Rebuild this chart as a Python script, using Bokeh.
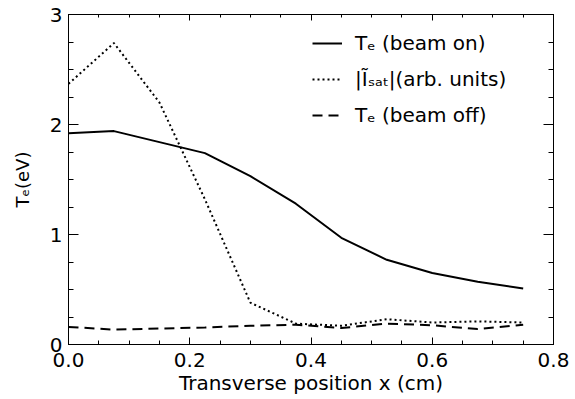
from bokeh.plotting import figure
from bokeh.models import (Range1d, LinearAxis, SingleIntervalTicker, Legend,
                          LegendItem, PrintfTickFormatter, CustomJSTickFormatter)
from bokeh.embed import file_html
from bokeh.resources import INLINE

# ---- data ----
x_pos = [0.0, 0.075, 0.15, 0.225, 0.3, 0.375, 0.45, 0.525, 0.6, 0.675, 0.75]
te_beam_on = [1.92, 1.94, 1.84, 1.74, 1.53, 1.28, 0.97, 0.77, 0.65, 0.57, 0.51]
isat_amp = [2.37, 2.74, 2.20, 1.32, 0.38, 0.19, 0.17, 0.23, 0.20, 0.21, 0.20]
te_beam_off = [0.16, 0.135, 0.145, 0.155, 0.17, 0.18, 0.15, 0.19, 0.175, 0.14, 0.18]

series_labels = ["T\u2091 (beam on)", "|\u0128\u209b\u2090\u209c|(arb. units)", "T\u2091 (beam off)"]
x_title = "Transverse position x (cm)"
y_title = "T\u2091(eV)"
x_ticks_interval = 0.2
y_ticks_interval = 1

FONT = "DejaVu Sans"

W, H = 575, 399
p = figure(width=W, height=H, output_backend="svg", toolbar_location=None,
           x_range=Range1d(0, 0.8), y_range=Range1d(0, 3),
           x_axis_type=None, y_axis_type=None,
           min_border_left=68, min_border_right=22, min_border_top=14, min_border_bottom=55)
p.xgrid.visible = False
p.ygrid.visible = False
p.outline_line_color = "black"
p.outline_line_width = 1
p.background_fill_color = "white"
p.border_fill_color = "white"


def mk_axis(kind, labels, tin, tmin):
    tick = SingleIntervalTicker(interval=x_ticks_interval if kind == "x" else y_ticks_interval,
                                num_minor_ticks=4)
    ax = LinearAxis(ticker=tick)
    ax.major_tick_in = tin
    ax.major_tick_out = 0
    ax.minor_tick_in = tmin
    ax.minor_tick_out = 0
    ax.axis_line_color = "black"
    ax.major_tick_line_color = "black"
    ax.minor_tick_line_color = "black"
    if labels:
        ax.formatter = PrintfTickFormatter(format="%.1f" if kind == "x" else "%d")
        ax.major_label_text_font = FONT
        ax.major_label_text_font_size = "20px"
        ax.major_label_text_color = "black"
        ax.axis_label_text_font = FONT
        ax.axis_label_text_font_style = "normal"
        ax.axis_label_text_color = "black"
    else:
        ax.formatter = CustomJSTickFormatter(code="return ''")
        ax.major_label_standoff = 0
        ax.major_label_text_font_size = "0px"
    return ax


xb = mk_axis("x", True, 7, 4)
xb.major_label_standoff = 8
xb.axis_label = x_title
xb.axis_label_text_font_size = "20px"
xb.axis_label_standoff = 1

yl = mk_axis("y", True, 10, 5)
yl.major_label_standoff = 6
yl.axis_label = y_title
yl.axis_label_text_font_size = "18px"
yl.axis_label_standoff = 14

xt = mk_axis("x", False, 6, 3)
yr = mk_axis("y", False, 10, 5)
p.add_layout(xb, "below")
p.add_layout(yl, "left")
p.add_layout(xt, "above")
p.add_layout(yr, "right")

r1 = p.line(x_pos, te_beam_on, line_color="black", line_width=2)
r2 = p.line(x_pos, isat_amp, line_color="black", line_width=2, line_dash="2 3")
r3 = p.line(x_pos, te_beam_off, line_color="black", line_width=2, line_dash="10 6")

legend = Legend(items=[LegendItem(label=series_labels[0], renderers=[r1]),
                       LegendItem(label=series_labels[1], renderers=[r2]),
                       LegendItem(label=series_labels[2], renderers=[r3])],
                location=(244, 211), glyph_width=30, glyph_height=36, label_height=36,
                spacing=0, padding=0, margin=0, label_standoff=13,
                border_line_color=None, background_fill_alpha=0,
                label_text_font=FONT, label_text_font_size="20px",
                label_text_color="black")
p.add_layout(legend, "center")

open("out.html", "w").write(file_html(p, INLINE))
